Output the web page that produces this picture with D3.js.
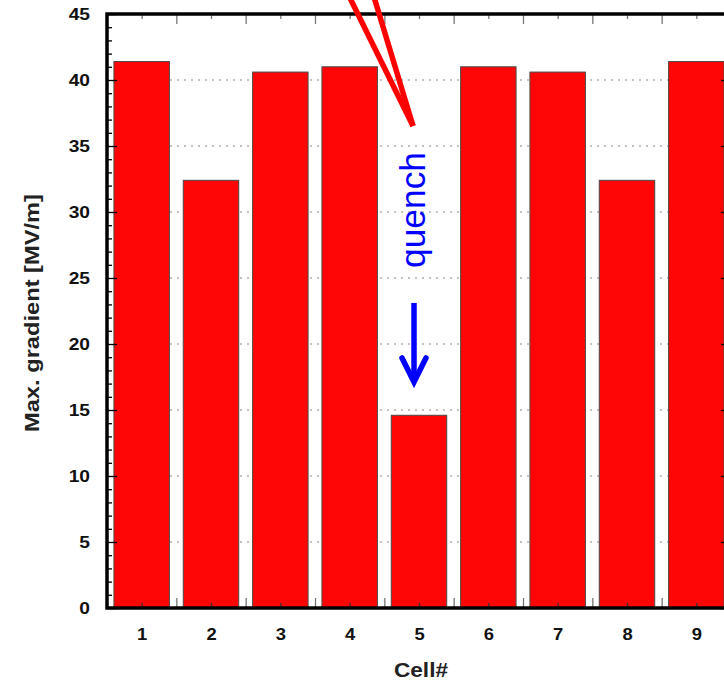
<!DOCTYPE html>
<html>
<head>
<meta charset="utf-8">
<script src="https://cdn.jsdelivr.net/npm/d3@7"></script>
<style>
  html, body { margin: 0; padding: 0; background: #fff; }
  svg { display: block; }
  text { font-family: "Liberation Sans", Arial, Helvetica, sans-serif; }
</style>
</head>
<body>
<svg id="chart" width="724" height="680"></svg>
<script>
// ---- data ----
const cells = [1, 2, 3, 4, 5, 6, 7, 8, 9];
const gradient = [41.4, 32.4, 40.6, 41.0, 14.6, 41.0, 40.6, 32.4, 41.4];
const yMajorTicks = [0, 5, 10, 15, 20, 25, 30, 35, 40, 45];
const yMinorTicks = d3.range(0, 46, 1);
const xTickLabels = ["1", "2", "3", "4", "5", "6", "7", "8", "9"];
const xBoundaryTicks = [1.5, 2.5, 3.5, 4.5, 5.5, 6.5, 7.5, 8.5];
const yGridValues = [5, 10, 15, 20, 25, 30, 35, 40];
const xLabel = "Cell#";
const yLabel = "Max. gradient [MV/m]";
// annotation (data units)
const quenchTip = { x: 4.914, y: 36.52 };
const quenchLineTops = [{ x: 3.93, y: 47 }, { x: 4.31, y: 47 }];
const arrowShaft = [{ x: 4.928, y: 23.11 }, { x: 4.928, y: 17.12 }];
const arrowHead = [{ x: 4.755, y: 18.94 }, { x: 4.928, y: 17.12 }, { x: 5.10, y: 18.94 }];
const quenchText = { label: "quench", x: 5.087, y: 30.15 };

// ---- scales ----
const svg = d3.select("#chart");
const pLeft = 107, pRight = 731, pTop = 14, pBottom = 608;
const x = d3.scaleLinear().domain([0.5, 9.5]).range([pLeft, pRight]);
const y = d3.scaleLinear().domain([0, 45]).range([pBottom, pTop]);
const barW = (x(1.4) - x(0.6));

svg.append("rect").attr("width", 724).attr("height", 680).attr("fill", "#fff");

function stretch(sel, k) {
  sel.each(function () {
    const w = this.getComputedTextLength();
    if (w > 0) d3.select(this).attr("textLength", w * k).attr("lengthAdjust", "spacingAndGlyphs");
  });
}

// grid
svg.append("g").selectAll("line").data(yGridValues).join("line")
  .attr("x1", pLeft).attr("x2", pRight)
  .attr("y1", d => y(d)).attr("y2", d => y(d))
  .attr("stroke", "#8a8a8a").attr("stroke-width", 1.2)
  .attr("stroke-dasharray", "2,5");

// bars
svg.append("g").selectAll("rect").data(cells).join("rect")
  .attr("x", (d) => x(d) - barW / 2)
  .attr("width", barW)
  .attr("y", (d, i) => y(gradient[i]))
  .attr("height", (d, i) => y(0) - y(gradient[i]))
  .attr("fill", "#ff0606")
  .attr("stroke", "#4a4a4a").attr("stroke-width", 1);

// axes
function styleAxis(g, color) {
  g.select(".domain").remove();
  g.selectAll(".tick line").attr("stroke", color).attr("stroke-width", 1.3);
}
// left major
svg.append("g").attr("transform", `translate(${pLeft},0)`)
  .call(d3.axisLeft(y).tickValues(yMajorTicks).tickSize(-10).tickPadding(17).tickFormat(d3.format("d")))
  .call(g => styleAxis(g, "#000"))
  .call(g => g.selectAll("text").attr("font-size", 16).attr("font-weight", "bold").attr("fill", "#111")
    .call(stretch, 1.2));
// left minor
svg.append("g").attr("transform", `translate(${pLeft},0)`)
  .call(d3.axisLeft(y).tickValues(yMinorTicks.filter(v => v % 5 !== 0)).tickSize(-5).tickFormat(""))
  .call(g => styleAxis(g, "#000"));
// right major/minor
svg.append("g").attr("transform", `translate(${pRight},0)`)
  .call(d3.axisRight(y).tickValues(yMajorTicks).tickSize(-10).tickFormat(""))
  .call(g => styleAxis(g, "#000"));
svg.append("g").attr("transform", `translate(${pRight},0)`)
  .call(d3.axisRight(y).tickValues(yMinorTicks.filter(v => v % 5 !== 0)).tickSize(-5).tickFormat(""))
  .call(g => styleAxis(g, "#000"));
// bottom labels + centre ticks
svg.append("g").attr("transform", `translate(0,${pBottom})`)
  .call(d3.axisBottom(x).tickValues(cells).tickSize(-5).tickPadding(21).tickFormat((d, i) => xTickLabels[i]))
  .call(g => styleAxis(g, "#333"))
  .call(g => g.selectAll("text").attr("font-size", 16).attr("font-weight", "bold").attr("fill", "#111")
    .call(stretch, 1.15));
svg.append("g").attr("transform", `translate(0,${pBottom})`)
  .call(d3.axisBottom(x).tickValues(xBoundaryTicks).tickSize(-10).tickFormat(""))
  .call(g => styleAxis(g, "#777"));
// top ticks
svg.append("g").attr("transform", `translate(0,${pTop})`)
  .call(d3.axisTop(x).tickValues(cells).tickSize(-5).tickFormat(""))
  .call(g => styleAxis(g, "#777"));
svg.append("g").attr("transform", `translate(0,${pTop})`)
  .call(d3.axisTop(x).tickValues(xBoundaryTicks).tickSize(-10).tickFormat(""))
  .call(g => styleAxis(g, "#777"));

// frame
svg.append("rect")
  .attr("x", pLeft).attr("y", pTop)
  .attr("width", pRight - pLeft).attr("height", pBottom - pTop)
  .attr("fill", "none").attr("stroke", "#000").attr("stroke-width", 3.5);

// axis titles
svg.append("text")
  .attr("x", (pLeft + pRight) / 2 + 2).attr("y", 677)
  .attr("text-anchor", "middle")
  .attr("font-size", 20).attr("font-weight", "bold").attr("fill", "#222")
  .text(xLabel)
  .call(stretch, 1.13);
svg.append("text")
  .attr("transform", `translate(39,${(pTop + pBottom) / 2 + 2}) rotate(-90)`)
  .attr("text-anchor", "middle")
  .attr("font-size", 21).attr("font-weight", "bold").attr("fill", "#222")
  .attr("textLength", 238).attr("lengthAdjust", "spacingAndGlyphs")
  .text(yLabel);

// annotations
const line = d3.line().x(d => x(d.x)).y(d => y(d.y));
svg.append("g").selectAll("path").data(quenchLineTops).join("path")
  .attr("d", d => line([d, quenchTip]))
  .attr("fill", "none").attr("stroke", "#ff0000").attr("stroke-width", 5.5)
  .attr("stroke-linecap", "butt");
svg.append("path").attr("d", line(arrowShaft))
  .attr("fill", "none").attr("stroke", "#0000ff").attr("stroke-width", 5.5);
svg.append("path").attr("d", line(arrowHead))
  .attr("fill", "none").attr("stroke", "#0000ff").attr("stroke-width", 5.5)
  .attr("stroke-linejoin", "miter").attr("stroke-linecap", "round");
svg.append("text")
  .attr("transform", `translate(${x(quenchText.x)},${y(quenchText.y)}) rotate(-90)`)
  .attr("text-anchor", "middle")
  .attr("font-size", 35).attr("fill", "#0000ff")
  .attr("textLength", 116).attr("lengthAdjust", "spacingAndGlyphs")
  .text(quenchText.label);
</script>
</body>
</html>
